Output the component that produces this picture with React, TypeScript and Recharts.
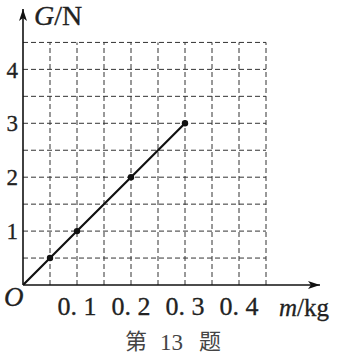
import React from 'react';
import { ComposedChart, Line, Scatter, XAxis, YAxis, ReferenceLine, ReferenceDot } from 'recharts';

// G = m g 图像：质量 m (kg) 与重力 G (N)
const massKg = [0, 0.05, 0.1, 0.2, 0.3];
const weightN = [0, 0.5, 1, 2, 3];
const markedMass = [0.05, 0.1, 0.2, 0.3];
const markedWeight = [0.5, 1, 2, 3];

const xTicks = [0.1, 0.2, 0.3, 0.4];
const xTickLabels = ['0. 1', '0. 2', '0. 3', '0. 4'];
const yTicks = [1, 2, 3, 4];
const yTickLabels = ['1', '2', '3', '4'];

const gridX = [0.05, 0.1, 0.15, 0.2, 0.25, 0.3, 0.35, 0.4, 0.45];
const gridY = [0.5, 1, 1.5, 2, 2.5, 3, 3.5, 4, 4.5];

const lineData = massKg.map((m, i) => ({ m, G: weightN[i] }));
const pointData = markedMass.map((m, i) => ({ m, G: markedWeight[i] }));

const serif = '"Liberation Serif", "DejaVu Serif", serif';
const cjk = '"Noto Sans CJK SC", sans-serif';

const ArrowUp = (props: any) => {
  const { cx, cy } = props;
  return <path d={`M${cx},${cy} L${cx - 4},${cy + 12} L${cx},${cy + 9} L${cx + 4},${cy + 12} Z`} fill="#111" />;
};

const ArrowRight = (props: any) => {
  const { cx, cy } = props;
  return <path d={`M${cx},${cy} L${cx - 12},${cy - 4} L${cx - 9},${cy} L${cx - 12},${cy + 4} Z`} fill="#111" />;
};

export default function App() {
  return (
    <div style={{ position: 'absolute', left: 0, top: 0, width: 342, height: 359, background: '#fff' }}>
      <ComposedChart
        width={342}
        height={359}
        data={lineData}
        margin={{ top: 9, right: 22, left: 0, bottom: 0 }}
      >
        <XAxis
          dataKey="m"
          type="number"
          domain={[0, 0.55]}
          ticks={xTicks}
          tickFormatter={(v: number) => xTickLabels[xTicks.indexOf(v)] ?? ''}
          tickLine={false}
          tickSize={0}
          tickMargin={12}
          height={74}
          axisLine={{ stroke: '#111', strokeWidth: 1.6 }}
          tick={{ fill: '#222', stroke: '#222', strokeWidth: 0.3, fontSize: 26, fontFamily: serif }}
          allowDataOverflow
        />
        <YAxis
          type="number"
          domain={[0, 5.12]}
          ticks={yTicks}
          tickFormatter={(v: number) => yTickLabels[yTicks.indexOf(v)] ?? ''}
          tickLine={false}
          tickSize={0}
          tickMargin={5}
          width={23}
          axisLine={{ stroke: '#111', strokeWidth: 1.6 }}
          tick={{ fill: '#222', stroke: '#222', strokeWidth: 0.3, fontSize: 23, fontFamily: serif }}
          allowDataOverflow
        />

        {/* 虚线网格 */}
        {gridY.map((g) => (
          <ReferenceLine
            key={'h' + g}
            segment={[{ x: 0, y: g }, { x: 0.45, y: g }]}
            stroke="#333"
            strokeWidth={1}
            strokeDasharray="5 3"
          />
        ))}
        {gridX.map((m) => (
          <ReferenceLine
            key={'v' + m}
            segment={[{ x: m, y: 0 }, { x: m, y: 4.5 }]}
            stroke="#333"
            strokeWidth={1}
            strokeDasharray="5 3"
          />
        ))}

        <Line
          dataKey="G"
          stroke="#111"
          strokeWidth={2.2}
          dot={false}
          isAnimationActive={false}
        />
        <Scatter data={pointData} dataKey="G" fill="#111" shape={(p: any) => <circle cx={p.cx} cy={p.cy} r={3.2} fill="#111" />} isAnimationActive={false} />

        <ReferenceDot x={0} y={5.12} r={0} ifOverflow="visible" shape={ArrowUp} />
        <ReferenceDot x={0.55} y={0} r={0} ifOverflow="visible" shape={ArrowRight} />
      </ComposedChart>

      <svg width={342} height={359} style={{ position: 'absolute', left: 0, top: 0, pointerEvents: 'none' }}>
        <text x={34} y={25} fontFamily={serif} fontSize={28} fill="#222" stroke="#222" strokeWidth={0.3}>
          <tspan fontStyle="italic">G</tspan>/N
        </text>
        <text x={4} y={306} fontFamily={serif} fontSize={27} fontStyle="italic" fill="#222" stroke="#222" strokeWidth={0.3}>O</text>
        <text x={279} y={316} fontFamily={serif} fontSize={25} fill="#222" stroke="#222" strokeWidth={0.3}>
          <tspan fontStyle="italic">m</tspan>/kg
        </text>
        <text x={125} y={349} fontFamily={cjk} fontSize={22} fill="#444">第</text>
        <text x={160} y={350} fontFamily={serif} fontSize={23} fill="#444">13</text>
        <text x={199} y={349} fontFamily={cjk} fontSize={22} fill="#444">题</text>
      </svg>
    </div>
  );
}
